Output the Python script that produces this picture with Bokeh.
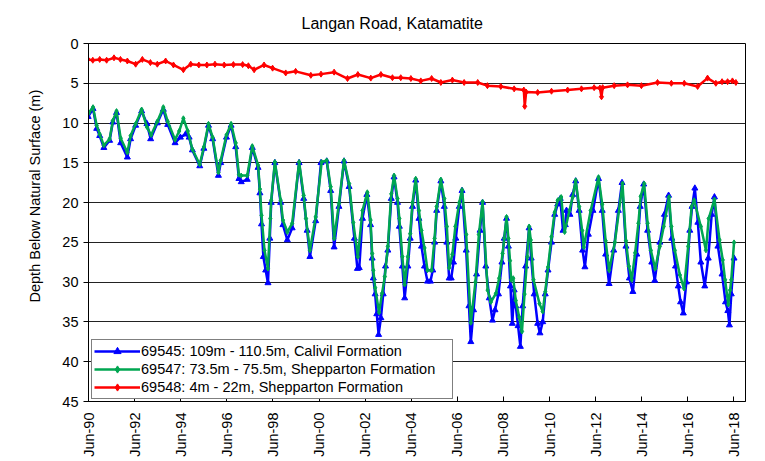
import numpy as np
from bokeh.plotting import figure
from bokeh.models import Range1d, FixedTicker, Legend, LegendItem, Title, BoxAnnotation, Label
from bokeh.embed import file_html
from bokeh.resources import INLINE

TITLE = "Langan Road, Katamatite"
Y_LABEL = "Depth Below Natural Surface (m)"

X_TICKS = [1990.414, 1992.414, 1994.414, 1996.414, 1998.414, 2000.414, 2002.414,
           2004.414, 2006.414, 2008.414, 2010.414, 2012.414, 2014.414, 2016.414, 2018.414]
X_TICK_LABELS = ["Jun-90", "Jun-92", "Jun-94", "Jun-96", "Jun-98", "Jun-00", "Jun-02",
                 "Jun-04", "Jun-06", "Jun-08", "Jun-10", "Jun-12", "Jun-14", "Jun-16", "Jun-18"]
Y_TICKS = [0, 5, 10, 15, 20, 25, 30, 35, 40, 45]

NAME_69545 = "69545: 109m - 110.5m, Calivil Formation"
NAME_69547 = "69547: 73.5m - 75.5m, Shepparton Formation"
NAME_69548 = "69548: 4m - 22m, Shepparton Formation"

# 69545 (blue) : decimal year, depth (m)
T_69545 = [1990.40, 1990.61, 1990.77, 1990.90, 1991.08, 1991.33, 1991.47, 1991.63, 1991.81, 1992.10,
           1992.24, 1992.46, 1992.72, 1992.95, 1993.11, 1993.40, 1993.66, 1993.85, 1994.17, 1994.40,
           1994.63, 1994.78, 1994.92, 1995.24, 1995.42, 1995.62, 1995.80, 1996.05, 1996.15, 1996.40,
           1996.60, 1996.80, 1996.94, 1997.04, 1997.30, 1997.52, 1997.77, 1997.85, 1997.92, 1998.00,
           1998.10, 1998.20, 1998.28, 1998.34, 1998.50, 1998.75, 1998.85, 1999.04, 1999.25, 1999.55,
           1999.75, 1999.90, 2000.02, 2000.27, 2000.50, 2000.75, 2000.92, 2001.07, 2001.28, 2001.50,
           2001.72, 2001.95, 2002.08, 2002.16, 2002.30, 2002.49, 2002.65, 2002.72, 2002.77, 2002.85,
           2002.92, 2003.00, 2003.10, 2003.20, 2003.30, 2003.40, 2003.55, 2003.67, 2003.82, 2003.90,
           2004.03, 2004.13, 2004.27, 2004.37, 2004.47, 2004.61, 2004.75, 2004.86, 2004.99, 2005.12,
           2005.25, 2005.35, 2005.43, 2005.52, 2005.70, 2005.85, 2005.96, 2006.06, 2006.15, 2006.25,
           2006.35, 2006.50, 2006.62, 2006.80, 2006.92, 2007.00, 2007.12, 2007.25, 2007.40, 2007.51,
           2007.65, 2007.80, 2007.94, 2008.05, 2008.20, 2008.35, 2008.45, 2008.55, 2008.63, 2008.72,
           2008.80, 2008.88, 2008.95, 2009.05, 2009.15, 2009.25, 2009.38, 2009.53, 2009.62, 2009.75,
           2009.90, 2010.00, 2010.12, 2010.23, 2010.35, 2010.50, 2010.64, 2010.77, 2010.88, 2011.00,
           2011.10, 2011.15, 2011.30, 2011.42, 2011.55, 2011.70, 2011.85, 2011.95, 2012.10, 2012.30,
           2012.54, 2012.70, 2012.85, 2013.00, 2013.20, 2013.40, 2013.56, 2013.73, 2013.88, 2014.03,
           2014.20, 2014.35, 2014.50, 2014.67, 2014.85, 2014.98, 2015.20, 2015.40, 2015.58, 2015.72,
           2015.88, 2016.00, 2016.10, 2016.22, 2016.35, 2016.50, 2016.60, 2016.72, 2016.85, 2016.98,
           2017.15, 2017.30, 2017.45, 2017.57, 2017.72, 2017.90, 2018.05, 2018.15, 2018.22, 2018.30,
           2018.42]
D_69545 = [9.2, 8.2, 10.7, 11.6, 13.1, 12.2, 9.9, 8.7, 12.5, 14.3,
           12.0, 10.3, 8.5, 10.1, 12.0, 10.0, 8.3, 10.2, 12.5, 11.8,
           11.4, 11.8, 13.4, 15.4, 13.2, 10.3, 12.0, 16.6, 15.0, 11.8,
           10.3, 13.0, 17.0, 17.4, 17.1, 13.1, 15.6, 18.8, 22.7, 26.8,
           28.5, 30.1, 24.5, 20.0, 15.0, 20.0, 22.8, 24.7, 23.2, 15.0,
           19.5, 23.5, 26.8, 22.3, 15.0, 14.8, 18.5, 25.6, 20.5, 14.8,
           18.0, 24.5, 28.3, 28.2, 22.0, 19.0, 22.8, 27.0, 29.5, 31.5,
           34.0, 36.6, 34.5, 31.5, 28.0, 26.0, 19.5, 16.8, 20.0, 23.0,
           28.0, 32.0, 28.0, 24.5, 20.5, 17.2, 22.0, 25.5, 28.0, 29.9,
           29.9, 28.5, 25.0, 21.0, 17.3, 20.5, 25.0, 29.5, 29.5, 27.5,
           24.5, 20.5, 18.5, 26.0, 33.0, 37.5, 33.5, 29.0, 23.5, 20.0,
           28.0, 32.0, 34.8, 33.5, 31.5, 27.5, 24.5, 22.0, 25.5, 30.5,
           35.2, 31.0, 33.0, 35.5, 38.1, 33.0, 28.0, 23.2, 27.0, 31.5,
           35.2, 36.4, 35.0, 31.5, 28.5, 25.0, 21.5, 20.2, 19.5, 23.5,
           22.8, 21.0, 21.5, 19.0, 17.3, 21.0, 26.0, 28.1, 24.0, 21.0,
           17.0, 21.0, 26.5, 30.2, 26.0, 21.0, 17.5, 25.5, 29.5, 31.2,
           26.5, 20.5, 17.7, 23.5, 27.5, 29.8, 25.0, 21.5, 19.1, 24.5,
           28.0, 30.5, 32.5, 33.9, 30.0, 23.5, 20.5, 18.2, 22.5, 27.5,
           30.5, 27.0, 21.5, 19.3, 25.5, 29.0, 32.5, 33.6, 35.4, 31.5,
           27.0]

# 69547 (green)
T_69547 = [1990.43, 1990.61, 1990.77, 1990.90, 1991.08, 1991.33, 1991.47, 1991.63, 1991.81, 1992.10,
           1992.24, 1992.46, 1992.72, 1992.95, 1993.13, 1993.40, 1993.66, 1993.85, 1994.17, 1994.35,
           1994.53, 1994.72, 1994.92, 1995.24, 1995.42, 1995.62, 1995.80, 1996.05, 1996.15, 1996.40,
           1996.60, 1996.80, 1996.94, 1997.04, 1997.30, 1997.52, 1997.77, 1997.85, 1997.92, 1998.05,
           1998.20, 1998.30, 1998.34, 1998.50, 1998.75, 1998.85, 1999.04, 1999.25, 1999.55, 1999.75,
           1999.85, 2000.02, 2000.27, 2000.53, 2000.75, 2000.92, 2001.07, 2001.28, 2001.50, 2001.72,
           2001.90, 2002.10, 2002.30, 2002.51, 2002.65, 2002.72, 2002.77, 2002.85, 2003.02, 2003.15,
           2003.27, 2003.40, 2003.55, 2003.67, 2003.82, 2003.90, 2004.03, 2004.13, 2004.27, 2004.37,
           2004.47, 2004.61, 2004.75, 2004.86, 2004.99, 2005.12, 2005.30, 2005.43, 2005.52, 2005.70,
           2005.85, 2005.96, 2006.06, 2006.20, 2006.33, 2006.50, 2006.62, 2006.80, 2007.00, 2007.20,
           2007.35, 2007.51, 2007.73, 2007.87, 2008.09, 2008.23, 2008.38, 2008.45, 2008.55, 2008.63,
           2008.70, 2008.75, 2008.84, 2008.95, 2009.10, 2009.22, 2009.33, 2009.45, 2009.53, 2009.60,
           2009.72, 2009.98, 2010.12, 2010.23, 2010.35, 2010.50, 2010.64, 2010.77, 2010.92, 2011.07,
           2011.28, 2011.42, 2011.55, 2011.70, 2011.83, 2011.90, 2012.20, 2012.54, 2012.70, 2012.85,
           2013.00, 2013.25, 2013.58, 2013.73, 2013.86, 2013.98, 2014.13, 2014.27, 2014.37, 2014.52,
           2014.67, 2014.81, 2015.00, 2015.20, 2015.37, 2015.60, 2015.70, 2015.85, 2016.07, 2016.25,
           2016.43, 2016.58, 2016.69, 2016.98, 2017.20, 2017.32, 2017.57, 2017.79, 2017.93, 2018.03,
           2018.17, 2018.25, 2018.30, 2018.42]
D_69547 = [8.7, 8.0, 10.3, 11.4, 12.8, 12.0, 9.7, 8.5, 11.9, 13.7,
           11.6, 10.1, 8.3, 10.5, 11.5, 9.8, 8.0, 9.8, 12.1, 11.0,
           9.4, 11.0, 13.3, 15.2, 13.0, 10.1, 11.8, 16.2, 14.7, 11.5,
           10.1, 12.5, 16.5, 16.6, 16.6, 12.9, 15.3, 18.3, 21.6, 26.0,
           28.3, 22.0, 19.7, 14.9, 19.7, 22.2, 23.7, 22.6, 14.9, 19.1,
           22.0, 26.0, 21.8, 14.9, 14.7, 18.0, 24.5, 20.1, 14.7, 17.6,
           22.5, 26.8, 21.0, 18.7, 22.2, 26.4, 28.5, 30.7, 33.8, 31.4,
           29.3, 25.5, 18.9, 16.6, 19.5, 22.0, 26.8, 30.3, 26.8, 23.9,
           20.0, 17.0, 21.0, 23.5, 25.7, 28.5, 28.5, 24.5, 20.5, 17.1,
           19.5, 23.0, 28.2, 26.5, 23.0, 20.0, 18.4, 24.0, 35.1, 30.0,
           24.0, 19.9, 31.0, 32.5, 31.4, 29.5, 26.4, 24.5, 21.8, 24.5,
           27.3, 29.7, 29.5, 32.3, 34.4, 36.2, 31.5, 26.8, 23.0, 24.7,
           29.7, 32.7, 33.7, 31.2, 28.1, 24.3, 21.2, 19.7, 19.3, 23.7,
           21.0, 19.3, 17.2, 20.5, 23.5, 25.6, 21.0, 16.8, 20.2, 24.8,
           28.5, 25.0, 17.6, 24.8, 28.0, 29.7, 26.3, 22.6, 19.2, 17.6,
           22.6, 26.0, 28.3, 25.5, 23.0, 19.3, 23.0, 26.0, 29.1, 30.8,
           25.5, 20.5, 19.7, 23.0, 26.0, 22.0, 19.6, 24.7, 27.2, 29.7,
           32.8, 31.0, 29.7, 25.0]

# 69548 (red)
T_69548 = [1990.39, 1990.60, 1990.90, 1991.20, 1991.52, 1991.80, 1992.10, 1992.46, 1992.75, 1993.10,
           1993.40, 1993.76, 1994.10, 1994.53, 1994.85, 1995.20, 1995.55, 1995.90, 1996.30, 1996.70,
           1997.10, 1997.35, 1997.60, 1998.03, 1998.40, 1998.97, 1999.40, 2000.06, 2000.50, 2001.07,
           2001.65, 2002.10, 2002.66, 2003.10, 2003.60, 2003.96, 2004.40, 2004.83, 2005.30, 2005.70,
           2006.20, 2006.71, 2007.30, 2007.72, 2008.30, 2008.88, 2009.30, 2009.34, 2009.40, 2009.90,
           2010.50, 2011.20, 2011.80, 2012.35, 2012.60, 2012.67, 2012.72, 2013.22, 2013.80, 2014.40,
           2015.10, 2015.70, 2016.26, 2016.84, 2017.27, 2017.63, 2017.90, 2018.14, 2018.35, 2018.50]
D_69548 = [2.0, 2.1, 2.0, 2.1, 1.8, 2.0, 2.2, 2.6, 2.0, 2.4,
           2.6, 2.2, 2.7, 3.3, 2.6, 2.7, 2.7, 2.6, 2.7, 2.65,
           2.65, 2.8, 3.3, 2.7, 3.1, 3.7, 3.5, 4.0, 3.85, 3.6,
           4.4, 3.9, 4.35, 3.9, 4.3, 4.3, 4.4, 4.7, 4.4, 4.9,
           4.6, 4.9, 4.9, 5.3, 5.4, 5.7, 5.85, 7.9, 6.1, 6.15,
           6.0, 5.85, 5.7, 5.55, 5.6, 6.7, 5.55, 5.3, 5.2, 5.3,
           4.9, 5.0, 5.0, 5.4, 4.35, 5.0, 4.8, 4.8, 4.7, 4.9]

FONT = "Liberation Sans"

p = figure(width=765, height=461, output_backend="svg", toolbar_location=None,
           x_range=Range1d(1990.414, 2018.917), y_range=Range1d(45, 0),
           min_border_left=88, min_border_right=20, min_border_top=43, min_border_bottom=60,
           background_fill_color="white", border_fill_color="white")

p.title.text = TITLE
p.title.align = "left"
p.title.offset = 213
p.title.standoff = 24
p.title.text_font = FONT
p.title.text_font_size = "16px"
p.title.text_font_style = "normal"
p.title.text_color = "#000000"

p.add_layout(Title(text=Y_LABEL, align="left", offset=99, standoff=33,
                   text_font=FONT, text_font_size="14.5px", text_font_style="normal",
                   text_color="#000000"), "left")

p.xgrid.visible = False
p.ygrid.grid_line_color = "#222222"
p.ygrid.grid_line_width = 1
p.outline_line_color = "#000000"
p.outline_line_width = 1

p.yaxis.ticker = FixedTicker(ticks=Y_TICKS)
p.xaxis.ticker = FixedTicker(ticks=X_TICKS)
p.xaxis.major_label_overrides = dict(zip(X_TICKS, X_TICK_LABELS))
p.xaxis.major_label_orientation = np.pi / 2
for ax in (p.xaxis[0], p.yaxis[0]):
    ax.major_label_text_font = FONT
    ax.major_label_text_font_size = "14.5px"
    ax.major_label_text_color = "#000000"
    ax.axis_line_color = "#000000"
    ax.major_tick_line_color = "#000000"
    ax.minor_tick_line_color = None
p.yaxis.major_tick_out = 5
p.yaxis.major_tick_in = 0
p.yaxis.major_label_standoff = 5
p.xaxis.major_tick_out = 0
p.xaxis.major_tick_in = 5
p.xaxis.major_label_standoff = 11

# outer chart-area border of the pasted chart (canvas pixels)
try:
    p.add_layout(BoxAnnotation(left=20.5, right=800, top=2.5, bottom=458.5,
                               left_units="canvas", right_units="canvas",
                               top_units="canvas", bottom_units="canvas",
                               fill_alpha=0, line_color="#000000", line_width=1.5,
                               level="underlay"))
except Exception:
    pass

l1 = p.line(T_69545, D_69545, line_color="#0000FF", line_width=2.5)
s1 = p.scatter(T_69545, D_69545, marker="triangle", size=6, color="#0000FF")
l2 = p.line(T_69547, D_69547, line_color="#00A651", line_width=2.5)
s2 = p.scatter(T_69547, D_69547, marker="diamond", size=5, color="#00A651")
l3 = p.line(T_69548, D_69548, line_color="#FF0000", line_width=2.5)
s3 = p.scatter(T_69548, D_69548, marker="diamond", size=6, color="#FF0000")

legend = Legend(items=[LegendItem(label=NAME_69545, renderers=[l1, s1]),
                       LegendItem(label=NAME_69547, renderers=[l2, s2]),
                       LegendItem(label=NAME_69548, renderers=[l3, s3])],
                location=(3, 2), padding=2, spacing=0, margin=0,
                glyph_width=46, glyph_height=18, label_height=18, label_width=309,
                label_standoff=1, border_line_color="#000000", border_line_width=1,
                background_fill_color="white", background_fill_alpha=1,
                label_text_font=FONT, label_text_font_size="14.5px", label_text_color="#000000")
p.add_layout(legend)

open("out.html", "w").write(file_html(p, INLINE))
